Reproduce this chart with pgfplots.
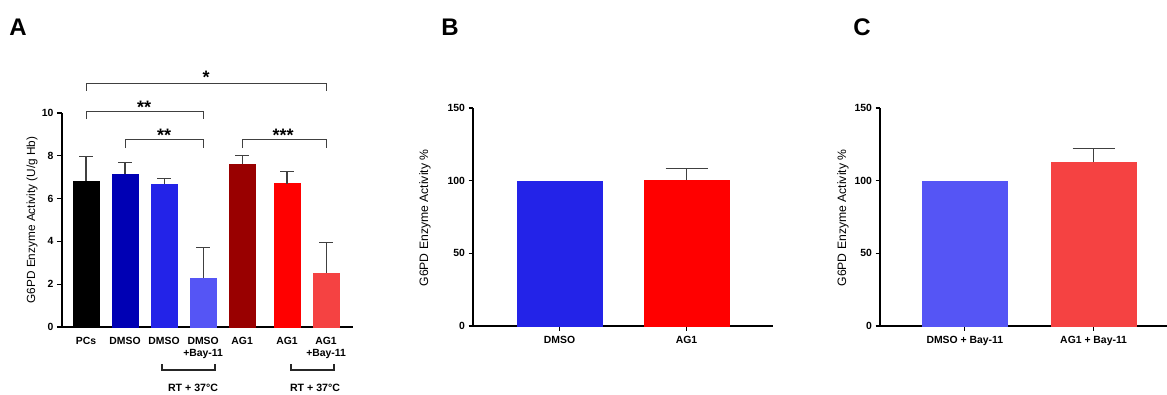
\documentclass[border=0pt]{standalone}
\usepackage{pgfplots}
\pgfplotsset{compat=1.18}
\usepackage{fontspec}
\setmainfont{Liberation Sans}
\definecolor{cPC}{HTML}{000000}
\definecolor{cD1}{HTML}{0000B4}
\definecolor{cD2}{HTML}{2323E8}
\definecolor{cD3}{HTML}{5555F5}
\definecolor{cA1}{HTML}{990000}
\definecolor{cA2}{HTML}{FF0000}
\definecolor{cA3}{HTML}{F54242}
\definecolor{cErr}{HTML}{404040}
\pgfplotsset{
  gpaxis/.style={
    scale only axis, axis lines=left, axis line style={line width=1.3pt,-},
    ymin=0, tick align=outside, tick style={line width=1.1pt, black},
    major tick length=5pt,
    ticklabel style={font=\bfseries\fontsize{10.4}{12}\selectfont},
    xticklabel style={align=center, yshift=-2pt},
    /pgf/number format/assume math mode=true,
    clip=false,
  },
  gpplain/.style={ybar, bar width=#1, bar shift=0pt, line width=0.3pt},
  gpbar/.style 2 args={ybar, bar width=#1, bar shift=0pt, line width=0.3pt,
    error bars/y dir=plus, error bars/y explicit,
    error bars/error bar style={draw=cErr, line width=1.1pt},
    error bars/error mark=-,
    error bars/error mark options={rotate=90, draw=cErr, line width=1.1pt, mark size=#2},
  },
}
\tikzset{gpstar/.style={font=\bfseries\fontsize{18}{18}\selectfont, anchor=base, yshift=-10.4pt, inner sep=0pt}}
\begin{document}
\begin{tikzpicture}[x=1pt,y=1pt]
\useasboundingbox (0,0) rectangle (1167,394);
% ---------- Panel A
\begin{axis}[gpaxis, at={(62pt,67pt)}, anchor=south west,
  width=291pt, height=214pt, xmin=-0.615, xmax=6.84, ymax=10,
  ytick={0,2,4,6,8,10},
  xtick={0,1,2,3,4,5.15,6.15},
  xticklabels={PCs,DMSO,DMSO,{DMSO\\+Bay-11},AG1,AG1,{AG1\\+Bay-11}},
  x tick style={draw=none}]
\addplot[gpbar={26pt}{7pt}, fill=cPC, draw=cPC] coordinates {(0,6.80) +- (0,1.17)};
\addplot[gpbar={26pt}{7pt}, fill=cD1, draw=cD1] coordinates {(1,7.14) +- (0,0.55)};
\addplot[gpbar={26pt}{7pt}, fill=cD2, draw=cD2] coordinates {(2,6.69) +- (0,0.23)};
\addplot[gpbar={26pt}{7pt}, fill=cD3, draw=cD3] coordinates {(3,2.30) +- (0,1.40)};
\addplot[gpbar={26pt}{7pt}, fill=cA1, draw=cA1] coordinates {(4,7.63) +- (0,0.37)};
\addplot[gpbar={26pt}{7pt}, fill=cA2, draw=cA2] coordinates {(5.15,6.70) +- (0,0.57)};
\addplot[gpbar={26pt}{7pt}, fill=cA3, draw=cA3] coordinates {(6.15,2.53) +- (0,1.41)};
% significance brackets
\draw[line width=1pt, cErr] (axis cs:0,11.04) -- (axis cs:0,11.39) -- (axis cs:6.15,11.39) -- (axis cs:6.15,11.04);
\node[gpstar] at (axis cs:3.08,11.87) {*};
\draw[line width=1pt, cErr] (axis cs:0,9.71) -- (axis cs:0,10.06) -- (axis cs:3,10.06) -- (axis cs:3,9.71);
\node[gpstar] at (axis cs:1.49,10.48) {**};
\draw[line width=1pt, cErr] (axis cs:1,8.36) -- (axis cs:1,8.74) -- (axis cs:3,8.74) -- (axis cs:3,8.36);
\node[gpstar] at (axis cs:2.0,9.16) {**};
\draw[line width=1pt, cErr] (axis cs:4,8.36) -- (axis cs:4,8.74) -- (axis cs:6.15,8.74) -- (axis cs:6.15,8.36);
\node[gpstar] at (axis cs:5.05,9.16) {***};
\end{axis}
\draw[line width=1.2pt, black!85] (162,30) -- (162,24) -- (215,24) -- (215,30);
\draw[line width=1.2pt, black!85] (291,30) -- (291,24) -- (334,24) -- (334,30);
\node[font=\bfseries\fontsize{10.6}{12}\selectfont] at (193,6) {RT + 37°C};
\node[font=\bfseries\fontsize{10.6}{12}\selectfont] at (315,6) {RT + 37°C};
\node[rotate=90, font=\fontsize{11.8}{12}\selectfont] at (32,174) {G6PD Enzyme Activity (U/g Hb)};
\node[font=\bfseries\fontsize{24}{24}\selectfont] at (18,367) {A};
% ---------- Panel B
\begin{axis}[gpaxis, at={(473pt,68pt)}, anchor=south west,
  width=300pt, height=218pt, xmin=-0.681, xmax=1.681, ymax=150,
  ytick={0,50,100,150}, xtick={0,1}, xticklabels={DMSO,AG1},
  major tick length=4.5pt]
\addplot[gpplain={85pt}, fill=cD2, draw=cD2] coordinates {(0,100)};
\addplot[gpbar={85pt}{21pt}, fill=cA2, draw=cA2] coordinates {(1,100.3) +- (0,7.9)};
\end{axis}
\node[rotate=90, font=\fontsize{12.2}{12}\selectfont] at (425,176) {G6PD Enzyme Activity \%};
\node[font=\bfseries\fontsize{24}{24}\selectfont] at (450,367) {B};
% ---------- Panel C
\begin{axis}[gpaxis, at={(880pt,68pt)}, anchor=south west,
  width=286.5pt, height=218pt, xmin=-0.659, xmax=1.566, ymax=150,
  ytick={0,50,100,150}, xtick={0,1}, xticklabels={DMSO + Bay-11,AG1 + Bay-11},
  major tick length=4.5pt]
\addplot[gpplain={85pt}, fill=cD3, draw=cD3] coordinates {(0,100)};
\addplot[gpbar={85pt}{21pt}, fill=cA3, draw=cA3] coordinates {(1,112.8) +- (0,9.6)};
\end{axis}
\node[rotate=90, font=\fontsize{12.2}{12}\selectfont] at (843,176) {G6PD Enzyme Activity \%};
\node[font=\bfseries\fontsize{24}{24}\selectfont] at (862,367) {C};
\end{tikzpicture}
\end{document}
